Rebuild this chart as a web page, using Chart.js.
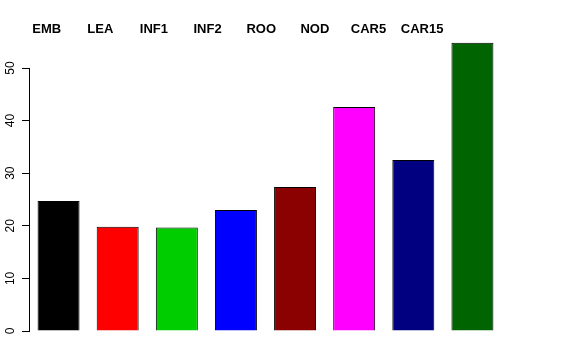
<!DOCTYPE html>
<html lang="en">
<head>
  <meta charset="UTF-8">
  <title>Barplot</title>
  <script src="https://cdn.jsdelivr.net/npm/chart.js"></script>
  <style>
    body { margin: 0; background: white; }
    #wrap { width: 576px; height: 360px; }
  </style>
</head>
<body>
  <div id="wrap"><canvas id="grafico" width="576" height="360"></canvas></div>

  <script>
    const categorias = ["EMB", "LEA", "INF1", "INF2", "ROO", "NOD", "CAR5", "CAR15"];
    const valores = [24.7, 19.8, 19.7, 23.0, 27.4, 42.6, 32.5, 54.8];
    const cores = ["#000000", "#ff0000", "#00cd00", "#0000ff", "#8b0000", "#ff00ff", "#000080", "#006400"];
    const yTicks = [0, 10, 20, 30, 40, 50];

    const fonte = "'Liberation Sans', Arial, sans-serif";

    // rotulos: eixo y girado (como no R) e nomes no topo
    const rotulos = {
      id: "rotulos",
      afterDraw(chart) {
        const ctx = chart.ctx, y = chart.scales.y, area = chart.chartArea;
        ctx.save();
        ctx.fillStyle = "#000";
        ctx.textAlign = "center";
        ctx.textBaseline = "middle";
        ctx.font = "12px " + fonte;
        yTicks.forEach(v => {
          ctx.save();
          ctx.translate(11, y.getPixelForValue(v));
          ctx.rotate(-Math.PI / 2);
          ctx.fillText(String(v), 0, 0);
          ctx.restore();
        });
        // nomes das categorias acima das barras, passo menor que o das barras
        ctx.font = "bold 13px " + fonte;
        const passo = (area.right - area.left) / 8.82;
        categorias.forEach((c, i) => {
          ctx.fillText(c, area.left + passo * (i + 0.33), 29.5);
        });
        ctx.restore();
      }
    };

    new Chart(document.getElementById("grafico"), {
      type: "bar",
      data: {
        labels: categorias,
        datasets: [{
          data: valores,
          backgroundColor: cores,
          borderColor: "#000",
          borderWidth: 1,
          barPercentage: 0.71,
          categoryPercentage: 1,
          clip: false
        }]
      },
      options: {
        responsive: false,
        animation: false,
        layout: { padding: { left: 0, right: 74, bottom: 29, top: 68 } },
        plugins: { legend: { display: false }, tooltip: { enabled: false } },
        scales: {
          x: { display: false },
          y: {
            min: 0,
            max: 50,
            afterFit: s => { s.width = 29; },
            grid: { drawOnChartArea: false, drawTicks: true, tickLength: 7, color: "#000" },
            border: { display: true, color: "#000" },
            ticks: { stepSize: 10, display: false }
          }
        }
      },
      plugins: [rotulos]
    });
  </script>
</body>
</html>
